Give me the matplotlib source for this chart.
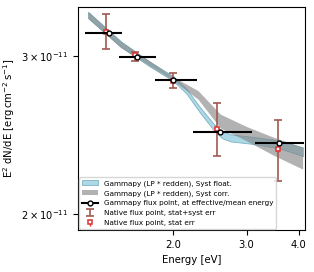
import numpy as np
import matplotlib
matplotlib.use("Agg")
import matplotlib.pyplot as plt
from matplotlib.ticker import FixedLocator, NullLocator, FixedFormatter
from matplotlib.lines import Line2D

# Gammapy flux points (effective energy)
gp_e = [1.40, 1.634, 2.0, 2.59, 3.59]
gp_elo = [1.228, 1.481, 1.81, 2.23, 3.15]
gp_ehi = [1.504, 1.818, 2.28, 3.09, 4.12]
gp_f = [3.185e-11, 2.99e-11, 2.82e-11, 2.466e-11, 2.40e-11]

# Native flux points
nat_e = [1.379, 1.622, 2.0, 2.55, 3.57]
nat_f = [3.19e-11, 3.005e-11, 2.81e-11, 2.487e-11, 2.36e-11]
nat_hi = [3.34e-11, 3.03e-11, 2.874e-11, 2.656e-11, 2.545e-11]
nat_lo = [3.05e-11, 2.96e-11, 2.76e-11, 2.317e-11, 2.176e-11]
nat_stat = [0.01e-11, 0.008e-11, 0.008e-11, 0.01e-11, 0.015e-11]

# Syst corr band (gray)
corr_e = [1.25, 1.5, 2.0, 2.3, 2.6, 3.0, 3.5, 4.1]
corr_lo = [3.30e-11, 3.06e-11, 2.815e-11, 2.68e-11, 2.49e-11, 2.41e-11, 2.32e-11, 2.24e-11]
corr_hi = [3.36e-11, 3.11e-11, 2.84e-11, 2.74e-11, 2.58e-11, 2.50e-11, 2.43e-11, 2.37e-11]

# Syst float band (light blue)
flt_e = [1.25, 1.5, 1.75, 2.0, 2.15, 2.32, 2.5, 2.62, 2.75, 3.1, 3.6, 4.1]
flt_c = [3.33e-11, 3.09e-11, 2.94e-11, 2.83e-11, 2.74e-11, 2.61e-11, 2.50e-11, 2.45e-11,
         2.43e-11, 2.415e-11, 2.39e-11, 2.345e-11]
flt_w = [0.008, 0.007, 0.006, 0.006, 0.006, 0.007, 0.008, 0.009, 0.009, 0.009, 0.01, 0.011]

# Tick labels
x_ticks = [2.0, 3.0, 4.0]
x_ticklabels = ['2.0', '3.0', '4.0']
y_ticks = [2e-11, 3e-11]
y_ticklabels = [r'$\mathdefault{2\times10^{-11}}$', r'$\mathdefault{3\times10^{-11}}$']

fig = plt.figure(figsize=(3.14, 2.72), dpi=100)
ax = fig.add_axes([0.248, 0.154, 0.723, 0.820])

flt_c = np.array(flt_c)
flt_w = np.array(flt_w)
h_flt = ax.fill_between(flt_e, flt_c * (1 - flt_w), flt_c * (1 + flt_w), facecolor='lightblue',
                        edgecolor='#7ab3c3', lw=0.6, zorder=2)
h_corr = ax.fill_between(corr_e, corr_lo, corr_hi, facecolor='gray', alpha=0.6, edgecolor='none',
                         zorder=3)

gp_e_a = np.array(gp_e)
xerr = [gp_e_a - np.array(gp_elo), np.array(gp_ehi) - gp_e_a]
ax.errorbar(gp_e, gp_f, xerr=xerr, fmt='o', color='black', mfc='white', mec='black',
            ms=3.5, lw=1.5, mew=1.0, zorder=6)
h_gp = Line2D([], [], color='black', marker='o', mfc='white', mec='black', ms=3.5, mew=1.0, lw=1.5)

nat_f_a = np.array(nat_f)
yerr = [nat_f_a - np.array(nat_lo), np.array(nat_hi) - nat_f_a]
h_sys = ax.errorbar(nat_e, nat_f, yerr=yerr, fmt='none', ecolor='#a05a50', elinewidth=1.2,
                    capsize=3, capthick=1.2, zorder=4)
h_stat = ax.errorbar(nat_e, nat_f, yerr=nat_stat, fmt='s', color='#e03030', mfc='white',
                     mec='#e03030', ms=3.2, mew=1.1, elinewidth=1.0, zorder=5)

ax.set_xscale('log')
ax.set_yscale('log')
ax.set_xlim(1.18, 4.14)
ax.set_ylim(1.918e-11, 3.40e-11)
ax.xaxis.set_major_locator(FixedLocator(x_ticks))
ax.xaxis.set_major_formatter(FixedFormatter(x_ticklabels))
ax.xaxis.set_minor_locator(NullLocator())
ax.yaxis.set_major_locator(FixedLocator(y_ticks))
ax.yaxis.set_major_formatter(FixedFormatter(y_ticklabels))
ax.yaxis.set_minor_locator(NullLocator())
ax.tick_params(axis='x', which='both', labelsize=7.2)
ax.tick_params(axis='y', which='both', labelsize=7.2)

ax.set_xlabel('Energy [eV]', fontsize=7.3)
ax.set_ylabel(r'E$^2$ dN/dE [erg$\,$cm$^{-2}$$\,$s$^{-1}$]', fontsize=7.3)

ax.legend([h_flt, h_corr, h_gp, h_sys, h_stat],
          ['Gammapy (LP * redden), Syst float.', 'Gammapy (LP * redden), Syst corr.',
           'Gammapy flux point, at effective/mean energy', 'Native flux point, stat+syst err',
           'Native flux point, stat err'],
          loc='lower left', fontsize=5.2, borderaxespad=0.2, handlelength=2.2)

# fit y tick label size to the reference width (~47 px for "3 x 10^-11")
fig.canvas.draw()
r = fig.canvas.get_renderer()
widths = [t.get_window_extent(r).width for t in ax.yaxis.get_ticklabels()
          if t.get_visible() and t.get_text()]
if widths:
    w = max(widths)
    ax.tick_params(axis='y', which='both', labelsize=7.2 * 47.0 / w)
ax.yaxis.set_label_coords(-0.27, 0.5)

fig.savefig('out.png', dpi=100)
